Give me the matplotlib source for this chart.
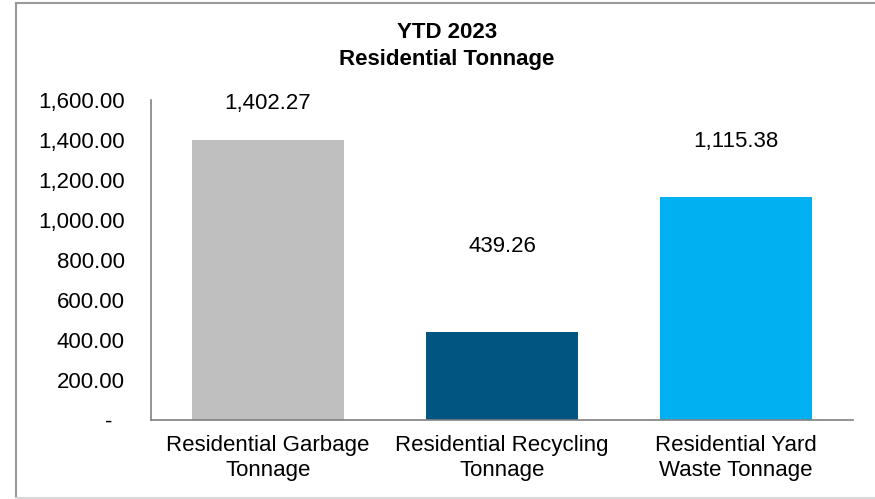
import matplotlib.pyplot as plt
from matplotlib.lines import Line2D
from matplotlib.ticker import FuncFormatter

plt.rcParams['font.family'] = ['Liberation Sans', 'DejaVu Sans']

# tonnage data
categories = ["Residential Garbage\nTonnage", "Residential Recycling\nTonnage", "Residential Yard\nWaste Tonnage"]
tonnage = [1402.27, 439.26, 1115.38]
colors = ["#bfbfbf", "#005581", "#00b0f0"]
# heights where the value labels sit
label_y = [1580, 865, 1390]

W, H = 875, 499
fig = plt.figure(figsize=(W / 100, H / 100), dpi=100)
ax = fig.add_axes([151 / W, 1 - 420 / H, (853 - 151) / W, (420 - 100) / H])

x = list(range(len(categories)))
ax.bar(x, tonnage, width=0.65, color=colors)

for i in x:
    ax.text(i, label_y[i], f"{tonnage[i]:,.2f}", ha="center", va="center", fontsize=16)

ax.set_xlim(-0.5, 2.5)
ax.set_ylim(0, 1600)
ax.set_yticks(range(0, 1601, 200))

# accounting style: zero shows as a dash
def fmt(v, pos):
    if v == 0:
        return "-  "
    return f"{v:,.2f}"

ax.yaxis.set_major_formatter(FuncFormatter(fmt))
ax.set_xticks(x)
ax.set_xticklabels(categories, fontsize=16, linespacing=1.25)
ax.tick_params(axis="y", labelsize=16, length=0, pad=19)
ax.tick_params(axis="x", length=0, pad=11)

for side in ["top", "right"]:
    ax.spines[side].set_visible(False)
ax.spines["left"].set_color("#808080")
ax.spines["bottom"].set_color("#808080")
ax.spines["left"].set_linewidth(1.2)
ax.spines["bottom"].set_linewidth(1.2)

fig.text(447 / W, 1 - 32 / H, "YTD 2023", ha="center", va="center", fontsize=16, fontweight="bold")
fig.text(447 / W, 1 - 60 / H, "Residential Tonnage", ha="center", va="center", fontsize=16, fontweight="bold")

# chart frame: top and left dark, bottom light, open on the right
left, top, bottom = 15.5 / W, 1 - 3 / H, 1 - 497.5 / H
fig.add_artist(Line2D([left, 1], [top, top], color="#999999", lw=1.5, transform=fig.transFigure))
fig.add_artist(Line2D([left, left], [bottom, top], color="#999999", lw=1.5, transform=fig.transFigure))
fig.add_artist(Line2D([left, 1], [bottom, bottom], color="#d9d9d9", lw=1.5, transform=fig.transFigure))

fig.savefig("out.png", dpi=100)
